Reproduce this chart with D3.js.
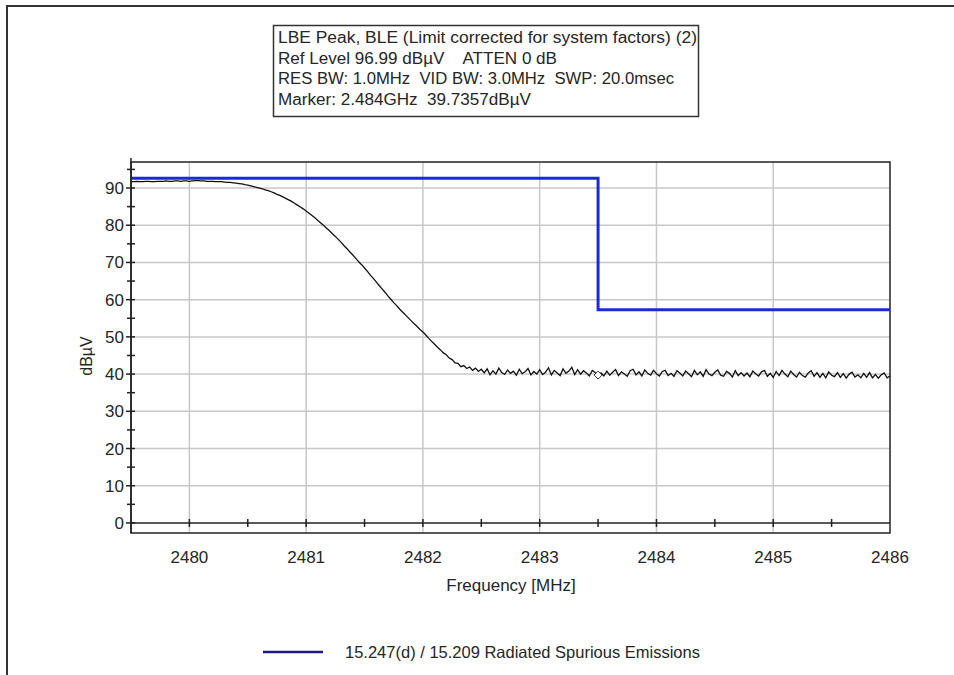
<!DOCTYPE html>
<html><head><meta charset="utf-8">
<script src="https://cdn.jsdelivr.net/npm/d3@7"></script>
<style>body{margin:0;background:#fff}svg{display:block;font-family:Arial,"Liberation Sans",sans-serif}</style>
</head><body>
<svg id="c" width="954" height="675"></svg>
<script>
const infoLines = [
  "LBE Peak, BLE (Limit corrected for system factors) (2)",
  "Ref Level 96.99 dBµV    ATTEN 0 dB",
  "RES BW: 1.0MHz  VID BW: 3.0MHz  SWP: 20.0msec",
  "Marker: 2.484GHz  39.7357dBµV"
];
const infoWidths = [419, 279, 396, 253];
const xTicks = [2480, 2481, 2482, 2483, 2484, 2485, 2486];
const yTicks = [0, 10, 20, 30, 40, 50, 60, 70, 80, 90];
const xDomain = [2479.5, 2486];
const yDomain = [-2.7, 96.99];
const limitFreq = [2479.5, 2483.5, 2483.5, 2486];
const limitLevel = [92.6, 92.6, 57.3, 57.3];
const limitName = "15.247(d) / 15.209 Radiated Spurious Emissions";
const marker = {freq: 2483.5, level: 39.7357};
const traceStart = 2479.5, traceStep = 0.025;
const traceLevel = [
  91.7,91.7,91.8,91.7,91.7,91.8,91.8,91.7,91.7,91.8,
  91.8,91.8,91.9,91.8,91.8,91.9,91.9,91.8,91.9,91.9,
  91.8,91.9,92.0,92.0,91.9,91.9,91.8,91.8,91.8,91.7,
  91.7,91.7,91.6,
  91.5,91.5,91.4,91.3,91.2,91.1,90.9,90.8,90.6,90.4,
  90.2,90.0,89.8,89.5,89.3,89.0,88.7,88.3,88.0,87.6,
  87.2,86.8,86.4,85.9,85.4,84.9,84.4,83.8,83.2,82.6,
  82.0,81.3,80.6,79.9,79.2,78.5,77.7,77.0,76.2,75.4,
  74.5,73.7,72.8,72.0,71.1,70.2,69.4,68.5,
  67.6,66.6,65.7,64.8,63.8,62.9,62.0,61.0,60.1,59.2,
  58.4,57.5,56.7,55.9,55.1,54.3,53.5,52.8,52.0,51.3,
  50.5,49.6,48.8,48.0,47.2,46.5,45.7,45.2,44.3,43.9,
  43.0,42.9,42.0,42.3,41.5,41.9,41.0,41.6,40.7,41.3,
  40.3,41.4,39.8,40.9,40.0,41.6,40.4,39.9,41.1,40.2,
  40.8,39.7,41.3,40.1,40.6,41.5,39.8,40.7,40.0,41.2,
  39.9,40.5,41.7,39.8,41.0,40.3,39.6,41.4,40.2,40.8,
  41.8,39.9,41.2,40.0,40.9,40.3,39.5,41.0,40.4,39.7,
  40.3,39.5,40.8,39.7,40.5,41.2,39.6,40.6,40.0,39.4,
  40.9,41.3,39.8,40.6,39.5,41.1,40.2,39.7,41.0,40.1,
  39.5,40.7,41.0,39.6,40.2,39.4,40.9,40.3,39.5,40.8,
  40.1,39.3,41.0,39.8,40.6,39.4,41.2,40.0,39.6,40.5,
  41.1,39.7,39.4,40.7,40.2,39.2,40.9,39.6,40.4,39.5,
  40.3,39.3,40.8,40.1,39.5,40.6,41.0,39.4,40.2,39.1,
  40.7,39.6,41.0,40.0,39.3,40.8,39.9,39.2,40.5,39.6,
  39.2,40.3,40.9,39.4,40.4,39.1,40.2,39.0,40.6,39.7,
  39.3,40.4,39.1,40.1,38.9,40.0,40.5,39.2,39.8,39.0,
  40.2,39.1,40.4,39.0,39.9,38.9,39.8,40.3,39.0,39.5
];

const svg = d3.select("#c");
const L = 131, R = 890, T = 162, B = 533;
const x = d3.scaleLinear().domain(xDomain).range([L, R]);
const y = d3.scaleLinear().domain(yDomain).range([B, T]);
const ink = "#262626";

// outer frame
svg.append("path").attr("d", "M7,675 V6 H954").attr("fill", "none").attr("stroke", "#333").attr("stroke-width", 2);

// info box
const info = svg.append("g");
info.append("rect").attr("x", 273.5).attr("y", 25.5).attr("width", 425).attr("height", 91)
  .attr("fill", "#fff").attr("stroke", "#333").attr("stroke-width", 1.5);
info.selectAll("text").data(infoLines).join("text")
  .attr("x", 278).attr("y", (d, i) => 43 + i * 20.7)
  .attr("font-size", 16).attr("fill", ink)
  .attr("textLength", (d, i) => infoWidths[i]).attr("lengthAdjust", "spacingAndGlyphs")
  .style("white-space", "pre").text(d => d);

// grid
const grid = svg.append("g").attr("stroke", "#c8c8c8").attr("stroke-width", 1.5);
grid.selectAll("line.v").data(xTicks.filter(d => d < xDomain[1])).join("line")
  .attr("x1", d => x(d)).attr("x2", d => x(d)).attr("y1", T).attr("y2", B);
grid.selectAll("line.h").data(yTicks.filter(d => d > 0)).join("line").attr("class", "h")
  .attr("x1", L).attr("x2", R).attr("y1", d => y(d)).attr("y2", d => y(d));

// plot frame
svg.append("rect").attr("x", L).attr("y", T).attr("width", R - L).attr("height", B - T)
  .attr("fill", "none").attr("stroke", "#222").attr("stroke-width", 1.5);

// limit line
const lim = limitFreq.map((f, i) => [f, limitLevel[i]]);
svg.append("path").datum(lim)
  .attr("d", d3.line().x(d => x(d[0])).y(d => y(d[1])))
  .attr("fill", "none").attr("stroke", "#1c2ad6").attr("stroke-width", 3);

// trace
const tr = traceLevel.map((v, i) => [traceStart + i * traceStep, v]);
svg.append("path").datum(tr)
  .attr("d", d3.line().x(d => x(d[0])).y(d => y(d[1])))
  .attr("fill", "none").attr("stroke", "#111").attr("stroke-width", 1.3);

// marker
svg.append("path").attr("transform", `translate(${x(marker.freq)},${y(marker.level)})`)
  .attr("d", d3.symbol(d3.symbolDiamond2, 40)())
  .attr("fill", "#fff").attr("stroke", "#333").attr("stroke-width", 1);

// x axis at 0
const y0 = y(0);
svg.append("line").attr("x1", L).attr("x2", R).attr("y1", y0).attr("y2", y0).attr("stroke", "#222").attr("stroke-width", 1.5);
const xMinor = d3.range(xTicks[0], xDomain[1], 0.5);
svg.append("g").selectAll("line").data(xMinor).join("line")
  .attr("x1", d => x(d)).attr("x2", d => x(d)).attr("y1", y0 - 4).attr("y2", y0 + 4)
  .attr("stroke", "#222").attr("stroke-width", 1.5);
svg.append("g").selectAll("text").data(xTicks).join("text")
  .attr("x", d => x(d)).attr("y", 563).attr("text-anchor", "middle").attr("font-size", 17).attr("fill", ink)
  .text(d => d);
svg.append("text").attr("x", 511).attr("y", 591).attr("text-anchor", "middle").attr("font-size", 17).attr("fill", ink)
  .text("Frequency [MHz]");

// y axis
svg.append("line").attr("x1", L).attr("x2", L).attr("y1", 158).attr("y2", B).attr("stroke", "#222").attr("stroke-width", 1.5);
const yMinor = d3.range(0, 96, 5);
svg.append("g").selectAll("line").data(yMinor).join("line")
  .attr("x1", d => d % 10 === 0 ? L - 5 : L - 4).attr("x2", L + 4)
  .attr("y1", d => y(d)).attr("y2", d => y(d)).attr("stroke", "#222").attr("stroke-width", 1.5);
svg.append("g").selectAll("text").data(yTicks).join("text")
  .attr("x", 124).attr("y", d => y(d) + 6).attr("text-anchor", "end").attr("font-size", 17).attr("fill", ink)
  .text(d => d);
svg.append("text").attr("transform", "translate(92,356) rotate(-90)").attr("text-anchor", "middle")
  .attr("font-size", 16).attr("fill", ink).text("dBµV");

// legend
svg.append("line").attr("x1", 263).attr("x2", 323).attr("y1", 652).attr("y2", 652)
  .attr("stroke", "#1a1a80").attr("stroke-width", 2.5);
svg.append("text").attr("x", 345).attr("y", 658).attr("font-size", 16.5).attr("fill", ink).text(limitName);
</script>
</body></html>
